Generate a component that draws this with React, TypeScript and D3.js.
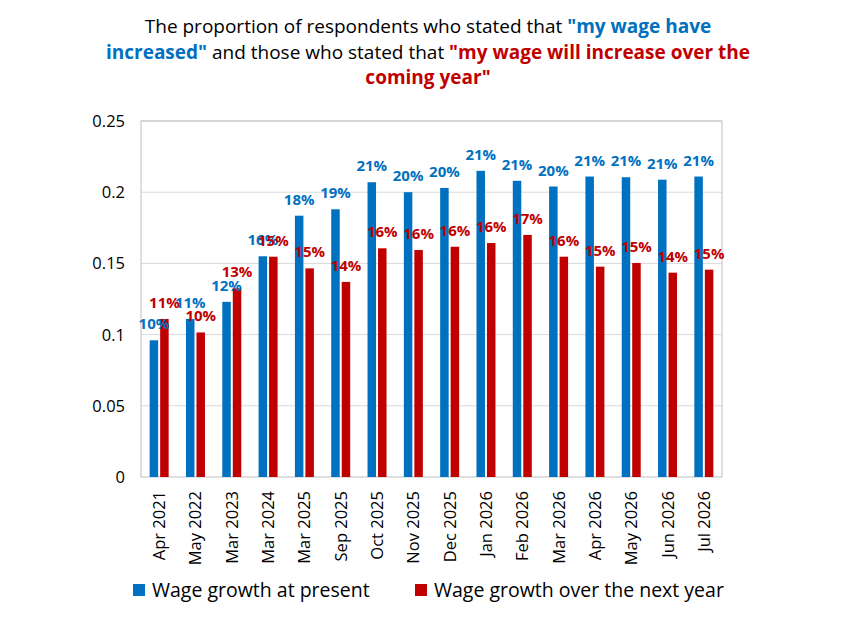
import * as d3 from "d3";
import { useRef, useEffect } from "react";

const categories = [
  "Apr 2021", "May 2022", "Mar 2023", "Mar 2024", "Mar 2025", "Sep 2025",
  "Oct 2025", "Nov 2025", "Dec 2025", "Jan 2026", "Feb 2026", "Mar 2026",
  "Apr 2026", "May 2026", "Jun 2026", "Jul 2026",
];

// wage growth at present
const presentValues = [
  0.096, 0.111, 0.123, 0.155, 0.1835, 0.188, 0.207, 0.200,
  0.203, 0.215, 0.208, 0.204, 0.211, 0.2105, 0.2088, 0.211,
];
const presentLabels = [
  "10%", "11%", "12%", "16%", "18%", "19%", "21%", "20%",
  "20%", "21%", "21%", "20%", "21%", "21%", "21%", "21%",
];

// wage growth over the next year
const nextYearValues = [
  0.111, 0.1015, 0.1325, 0.1547, 0.1465, 0.137, 0.1606, 0.1594,
  0.1617, 0.1643, 0.170, 0.1547, 0.1477, 0.1503, 0.1435, 0.1456,
];
const nextYearLabels = [
  "11%", "10%", "13%", "15%", "15%", "14%", "16%", "16%",
  "16%", "16%", "17%", "16%", "15%", "15%", "14%", "15%",
];

const yTicks = [0, 0.05, 0.1, 0.15, 0.2, 0.25];
const yTickLabels = ["0", "0.05", "0.1", "0.15", "0.2", "0.25"];

const BLUE = "#0070C0";
const RED = "#C00000";
const FONT = "'Open Sans', 'Noto Sans', sans-serif";

export default function App() {
  const ref = useRef<SVGSVGElement | null>(null);

  useEffect(() => {
    const svg = d3.select(ref.current);
    svg.selectAll("*").remove();

    const width = 849;
    const height = 618;
    const m = { left: 141, right: 722, top: 121, bottom: 477 };

    svg.attr("width", width).attr("height", height).style("font-family", FONT);

    // title
    const titleLines = [
      [
        { t: "The proportion of respondents who stated that ", c: "#000", b: false },
        { t: "\"my wage have", c: BLUE, b: true },
      ],
      [
        { t: "increased\"", c: BLUE, b: true },
        { t: " and those who stated that ", c: "#000", b: false },
        { t: "\"my wage will increase over the", c: RED, b: true },
      ],
      [{ t: "coming year\"", c: RED, b: true }],
    ];
    titleLines.forEach((line, i) => {
      const txt = svg
        .append("text")
        .attr("x", 428)
        .attr("y", 33 + i * 25.5)
        .attr("text-anchor", "middle")
        .attr("font-size", 19);
      line.forEach((seg) => {
        txt
          .append("tspan")
          .attr("fill", seg.c)
          .attr("font-weight", seg.b ? "bold" : "normal")
          .style("white-space", "pre")
          .text(seg.t);
      });
    });

    const x = d3
      .scaleBand()
      .domain(categories)
      .range([m.left, m.right])
      .paddingInner(0.477)
      .paddingOuter(0.2385);

    const inner = d3
      .scaleBand()
      .domain(["present", "next"])
      .range([0, x.bandwidth()])
      .paddingInner(0.19);

    const y = d3.scaleLinear().domain([0, 0.25]).range([m.bottom, m.top]);

    // gridlines
    svg
      .append("g")
      .selectAll("line")
      .data(yTicks.slice(1))
      .enter()
      .append("line")
      .attr("x1", m.left)
      .attr("x2", m.right)
      .attr("y1", (d) => y(d))
      .attr("y2", (d) => y(d))
      .attr("stroke", "#d9d9d9")
      .attr("stroke-width", 1);

    // plot border
    svg
      .append("rect")
      .attr("x", m.left)
      .attr("y", m.top)
      .attr("width", m.right - m.left)
      .attr("height", m.bottom - m.top)
      .attr("fill", "none")
      .attr("stroke", "#bfbfbf")
      .attr("stroke-width", 1);

    // y tick labels
    svg
      .append("g")
      .selectAll("text")
      .data(yTicks)
      .enter()
      .append("text")
      .attr("x", 125)
      .attr("y", (d) => y(d) + 6)
      .attr("text-anchor", "end")
      .attr("font-size", 16.5)
      .attr("fill", "#000")
      .text((_, i) => yTickLabels[i]);

    const series = [
      { key: "present", values: presentValues, labels: presentLabels, color: BLUE },
      { key: "next", values: nextYearValues, labels: nextYearLabels, color: RED },
    ];

    series.forEach((s) => {
      const g = svg.append("g");
      g.selectAll("rect")
        .data(s.values)
        .enter()
        .append("rect")
        .attr("x", (_, i) => x(categories[i])! + inner(s.key)!)
        .attr("y", (d) => y(d))
        .attr("width", inner.bandwidth())
        .attr("height", (d) => m.bottom - y(d))
        .attr("fill", s.color);
    });

    series.forEach((s) => {
      svg
        .append("g")
        .selectAll("text")
        .data(s.values)
        .enter()
        .append("text")
        .attr("x", (_, i) => x(categories[i])! + inner(s.key)! + inner.bandwidth() / 2)
        .attr("y", (d) => y(d) - 11)
        .attr("text-anchor", "middle")
        .attr("font-size", 15)
        .attr("font-weight", "bold")
        .attr("fill", s.color)
        .text((_, i) => s.labels[i]);
    });

    // x labels, rotated
    svg
      .append("g")
      .selectAll("text")
      .data(categories)
      .enter()
      .append("text")
      .attr(
        "transform",
        (d) => `translate(${x(d)! + x.bandwidth() / 2 + 6},491) rotate(-90)`
      )
      .attr("text-anchor", "end")
      .attr("font-size", 16.5)
      .attr("fill", "#000")
      .text((d) => d);

    // legend
    const legend = [
      { label: "Wage growth at present", color: BLUE, x: 133 },
      { label: "Wage growth over the next year", color: RED, x: 415 },
    ];
    legend.forEach((l) => {
      svg
        .append("rect")
        .attr("x", l.x)
        .attr("y", 584)
        .attr("width", 12)
        .attr("height", 12)
        .attr("fill", l.color);
      svg
        .append("text")
        .attr("x", l.x + 19)
        .attr("y", 597)
        .attr("font-size", 19.5)
        .attr("fill", "#000")
        .text(l.label);
    });
  }, []);

  return <svg ref={ref} style={{ display: "block", margin: "-8px" }}></svg>;
}
